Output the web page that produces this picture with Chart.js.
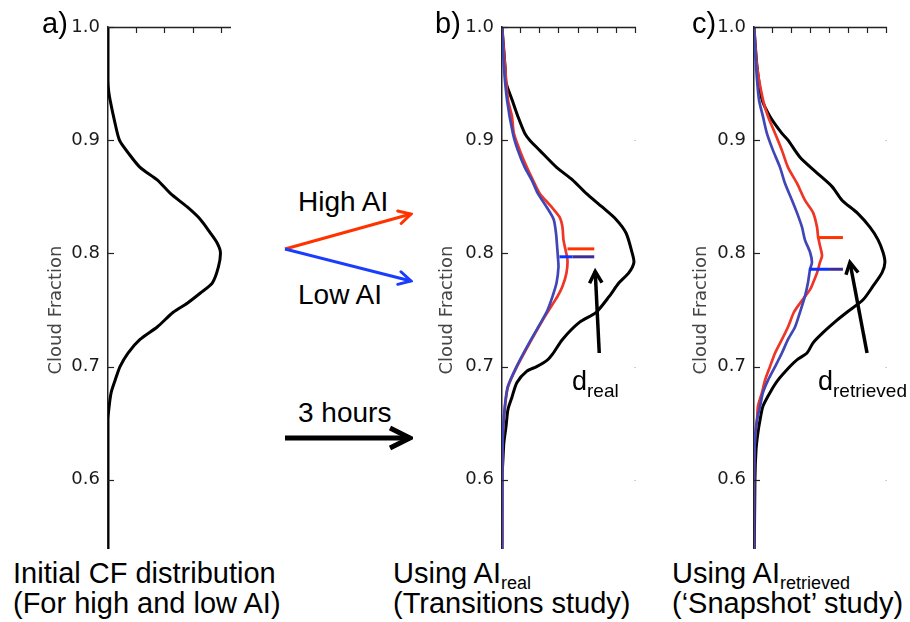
<!DOCTYPE html>
<html><head><meta charset="utf-8">
<script src="https://cdn.jsdelivr.net/npm/chart.js@4.4.1/dist/chart.umd.min.js"></script>
<style>
html,body{margin:0;padding:0;background:#fff;}
body{width:910px;height:622px;position:relative;overflow:hidden;font-family:"Liberation Sans",Arial,sans-serif;color:#000;}
canvas{position:absolute;top:0;z-index:1;}
#cover{position:absolute;left:0;top:549px;width:910px;height:73px;background:#fff;z-index:2;}
.t{position:absolute;font-size:28px;line-height:30px;white-space:nowrap;z-index:3;}
.big{font-size:29px;}
.sub{font-size:18px;position:relative;top:6px;line-height:0;}
.dl{font-size:27px;}
.dl .sub{font-size:19px;top:7px;}
#ov{position:absolute;left:0;top:0;z-index:3;pointer-events:none;}
</style></head><body>
<canvas id="ca" width="260" height="622" style="left:0"></canvas>
<canvas id="cb" width="260" height="622" style="left:394px"></canvas>
<canvas id="cc" width="264" height="622" style="left:646px"></canvas>
<div id="cover"></div>

<div class="t big" style="left:42px;top:8px">a)</div>
<div class="t big" style="left:435px;top:8px">b)</div>
<div class="t big" style="left:692px;top:8px">c)</div>

<div class="t" style="left:298px;top:187px">High AI</div>
<div class="t" style="left:298px;top:280px">Low AI</div>
<div class="t" style="left:298px;top:398px">3 hours</div>

<div class="t dl" style="left:572px;top:366px">d<span class="sub">real</span></div>
<div class="t dl" style="left:818px;top:366px">d<span class="sub">retrieved</span></div>

<div class="t big" style="left:13px;top:558px">Initial CF distribution<br>(For high and low AI)</div>
<div class="t big" style="left:393px;top:558px">Using AI<span class="sub">real</span><br>(Transitions study)</div>
<div class="t big" style="left:672px;top:558px">Using AI<span class="sub">retrieved</span><br>(‘Snapshot’ study)</div>

<svg id="ov" width="910" height="622">
<defs>
<marker id="mr" markerUnits="userSpaceOnUse" viewBox="0 0 16 16" markerWidth="16" markerHeight="16" refX="14" refY="8" orient="auto"><path d="M2,1.5 L14,8 L2,14.5" fill="none" stroke="#ff3300" stroke-width="3" stroke-linecap="round"/></marker>
<marker id="mb" markerUnits="userSpaceOnUse" viewBox="0 0 16 16" markerWidth="16" markerHeight="16" refX="14" refY="8" orient="auto"><path d="M2,1.5 L14,8 L2,14.5" fill="none" stroke="#1a3cff" stroke-width="3" stroke-linecap="round"/></marker>
<marker id="mk" markerUnits="userSpaceOnUse" viewBox="0 0 28 28" markerWidth="28" markerHeight="28" refX="25" refY="14" orient="auto"><path d="M5,4 L25,14 L5,24" fill="none" stroke="#000" stroke-width="5"/></marker>
</defs>
<line x1="285" y1="249" x2="411" y2="214" stroke="#ff3300" stroke-width="3" marker-end="url(#mr)"/>
<line x1="285" y1="249" x2="411" y2="281" stroke="#1a3cff" stroke-width="3" marker-end="url(#mb)"/>
<line x1="285" y1="438" x2="410" y2="438" stroke="#000" stroke-width="5" marker-end="url(#mk)"/>
</svg>

<script>
// ---------- data (cloud fraction vs. frequency density) ----------
// Panel a: initial CF distribution
const cfA   = [1.0, 0.953, 0.944, 0.936, 0.918, 0.900, 0.889, 0.876, 0.865, 0.853, 0.841, 0.830, 0.818, 0.809, 0.801, 0.788, 0.774, 0.765, 0.756, 0.748, 0.735, 0.724, 0.712, 0.700, 0.688, 0.677, 0.665, 0.653, 0.5];
const initA = [0, 0, 0.02, 0.07, 0.22, 0.40, 0.70, 1.12, 1.72, 2.18, 2.77, 3.23, 3.58, 3.82, 3.93, 3.86, 3.65, 3.23, 2.77, 2.28, 1.72, 1.12, 0.70, 0.42, 0.25, 0.11, 0.04, 0, 0];

// Panel b: using AI_real
const cfBInit = [1.0, 0.965, 0.951, 0.936, 0.921, 0.906, 0.900, 0.891, 0.876, 0.865, 0.853, 0.841, 0.830, 0.818, 0.801, 0.792, 0.783, 0.774, 0.762, 0.748, 0.739, 0.724, 0.711, 0.706, 0.700, 0.696, 0.686, 0.673, 0.662, 0.647, 0.633, 0.618, 0.600, 0.5];
const initB   = [0, 0.16, 0.21, 0.52, 0.83, 1.19, 1.45, 1.97, 2.85, 3.68, 4.40, 5.23, 5.96, 6.48, 6.79, 6.89, 6.63, 6.11, 5.60, 4.92, 4.04, 3.16, 2.64, 2.38, 1.81, 1.30, 0.78, 0.52, 0.31, 0.21, 0.10, 0.05, 0, 0];
const cfBHigh = [1.0, 0.965, 0.936, 0.921, 0.906, 0.891, 0.876, 0.865, 0.853, 0.841, 0.832, 0.823, 0.812, 0.803, 0.794, 0.783, 0.771, 0.762, 0.755, 0.741, 0.721, 0.700, 0.682, 0.665, 0.642, 0.618, 0.5];
const highB   = [0, 0.16, 0.31, 0.52, 0.62, 0.93, 1.30, 1.61, 1.97, 2.59, 3.01, 3.16, 3.21, 3.32, 3.42, 3.37, 3.16, 2.90, 2.64, 2.12, 1.45, 0.78, 0.31, 0.16, 0.05, 0.02, 0];
const cfBLow  = [1.0, 0.965, 0.936, 0.906, 0.891, 0.876, 0.865, 0.853, 0.841, 0.830, 0.818, 0.806, 0.797, 0.788, 0.774, 0.762, 0.750, 0.741, 0.721, 0.700, 0.682, 0.665, 0.642, 0.618, 0.5];
const lowB    = [0, 0.10, 0.26, 0.57, 0.83, 1.19, 1.55, 1.87, 2.33, 2.70, 2.82, 2.88, 2.92, 2.95, 2.85, 2.64, 2.38, 2.10, 1.42, 0.76, 0.30, 0.15, 0.05, 0.02, 0];
// mode markers (cf level, start, end of the horizontal bar)
const peakB   = { high: [0.804, 3.42, 4.82], lowBlue: [0.797, 3.00, 3.68], lowPurple: [0.797, 3.68, 4.82] };
const dArrowB = { from: [5.08, 0.712], to: [4.87, 0.784] };

// Panel c: using AI_retrieved
const cfCInit = [1.0, 0.965, 0.936, 0.921, 0.906, 0.900, 0.885, 0.871, 0.859, 0.847, 0.836, 0.823, 0.812, 0.801, 0.792, 0.783, 0.771, 0.759, 0.748, 0.741, 0.730, 0.721, 0.712, 0.706, 0.700, 0.688, 0.677, 0.665, 0.653, 0.642, 0.627, 0.600, 0.5];
const initC   = [0, 0.16, 0.42, 0.84, 1.47, 1.79, 2.42, 3.32, 4.11, 4.63, 5.42, 6.11, 6.53, 6.79, 6.89, 6.74, 6.26, 5.74, 4.89, 4.37, 3.63, 3.11, 2.79, 2.26, 1.89, 1.26, 0.84, 0.47, 0.32, 0.21, 0.11, 0.05, 0];
const cfCHigh = [1.0, 0.965, 0.936, 0.921, 0.906, 0.891, 0.876, 0.862, 0.847, 0.836, 0.823, 0.815, 0.807, 0.798, 0.792, 0.783, 0.774, 0.768, 0.756, 0.748, 0.735, 0.724, 0.712, 0.700, 0.688, 0.677, 0.665, 0.653, 0.636, 0.600, 0.5];
const highC   = [0, 0.16, 0.47, 0.74, 1.11, 1.47, 1.79, 2.26, 2.68, 3.11, 3.32, 3.37, 3.47, 3.58, 3.47, 3.32, 3.11, 2.95, 2.42, 2.10, 1.79, 1.47, 1.11, 0.84, 0.58, 0.42, 0.21, 0.16, 0.05, 0, 0];
const cfCLow  = [1.0, 0.965, 0.936, 0.921, 0.906, 0.891, 0.876, 0.862, 0.847, 0.836, 0.823, 0.812, 0.801, 0.792, 0.786, 0.774, 0.762, 0.748, 0.735, 0.724, 0.712, 0.700, 0.688, 0.677, 0.665, 0.653, 0.636, 0.600, 0.5];
const lowC    = [0, 0.11, 0.26, 0.47, 0.68, 1.00, 1.37, 1.63, 2.00, 2.26, 2.53, 2.68, 2.95, 3.05, 2.95, 2.84, 2.68, 2.42, 2.16, 1.79, 1.47, 1.11, 0.74, 0.47, 0.32, 0.16, 0.05, 0, 0];
const peakC   = { high: [0.814, 3.37, 4.68], lowBlue: [0.786, 2.89, 3.95], lowPurple: [0.786, 3.95, 4.68] };
const dArrowC = { from: [5.95, 0.712], to: [5.05, 0.792] };

// axis ticks
const yTickValues = [0.6, 0.7, 0.8, 0.9, 1.0];
const topTicksA = [1, 2, 3, 4];
const topTicksBC = [1, 2, 3, 4, 5, 6, 7];

// ---------- styling ----------
const COL = { init: '#000000', high: '#ee3526', low: '#4146b6', barHigh: '#ff3300', barLow: '#0a32ff', barPurple: '#3f2a9a' };

const pts = (xs, ys) => xs.map((v, i) => ({ x: v, y: ys[i] }));
const curve = (xs, ys, color, w) => ({ data: pts(xs, ys), showLine: true, borderColor: color, borderWidth: w, pointRadius: 0, tension: 0.25, fill: false });
const bar = (p, color) => ({ data: [{ x: p[1], y: p[0] }, { x: p[2], y: p[0] }], showLine: true, borderColor: color, borderWidth: 3, pointRadius: 0, tension: 0 });

function drawArrow(ctx, x1, y1, x2, y2, w, len, color) {
  const a = Math.atan2(y2 - y1, x2 - x1);
  ctx.strokeStyle = color; ctx.lineWidth = w; ctx.lineCap = 'butt';
  ctx.beginPath(); ctx.moveTo(x1, y1); ctx.lineTo(x2, y2); ctx.stroke();
  ctx.beginPath();
  ctx.moveTo(x2 - len * Math.cos(a - 0.5), y2 - len * Math.sin(a - 0.5));
  ctx.lineTo(x2, y2);
  ctx.lineTo(x2 - len * Math.cos(a + 0.5), y2 - len * Math.sin(a + 0.5));
  ctx.stroke();
}

const deco = {
  id: 'deco',
  afterDatasetsDraw(chart, args, opts) {
    const { ctx, chartArea: { left, right, top }, scales: { x, y } } = chart;
    ctx.save();
    ctx.strokeStyle = '#222'; ctx.lineWidth = 1.5;
    ctx.beginPath(); ctx.moveTo(left, top + 0.5); ctx.lineTo(right, top + 0.5); ctx.stroke();
    ctx.lineWidth = 1.2;
    for (const v of opts.topTicks) {
      const px = Math.round(x.getPixelForValue(v)) - 0.5;
      ctx.beginPath(); ctx.moveTo(px, top); ctx.lineTo(px, top + 6); ctx.stroke();
    }
    for (const v of yTickValues) {
      const py = Math.round(y.getPixelForValue(v)) + 0.5;
      ctx.beginPath(); ctx.moveTo(left, py); ctx.lineTo(left + 6, py); ctx.stroke();
    }
    if (opts.rightTicks) {
      ctx.strokeStyle = '#d0d0d0'; ctx.lineWidth = 1;
      for (const v of [0.6, 0.7, 0.9]) {
        const py = Math.round(y.getPixelForValue(v)) + 0.5;
        ctx.beginPath(); ctx.moveTo(right - 2, py); ctx.lineTo(right, py); ctx.stroke();
      }
    }
    if (opts.arrow) {
      const a = opts.arrow;
      drawArrow(ctx, x.getPixelForValue(a.from[0]), y.getPixelForValue(a.from[1]),
                     x.getPixelForValue(a.to[0]), y.getPixelForValue(a.to[1]), 3.5, 13, '#000');
    }
    ctx.restore();
  }
};

function makePanel(id, xMax, padRight, titlePad, datasets, decoOpts) {
  return new Chart(document.getElementById(id), {
    type: 'scatter',
    data: { datasets },
    options: {
      responsive: false, animation: false, devicePixelRatio: 1,
      layout: { padding: { left: 0, right: padRight, top: 27, bottom: 29 } },
      plugins: { legend: { display: false }, tooltip: { enabled: false }, deco: decoOpts },
      scales: {
        x: { type: 'linear', display: false, min: 0, max: xMax },
        y: {
          type: 'linear', min: 0.5, max: 1.0,
          ticks: { stepSize: 0.1, padding: 8, color: '#1a1a1a', font: { family: 'DejaVu Sans', size: 18 },
                   callback: v => Number(v).toFixed(1) },
          grid: { display: false, drawTicks: false },
          border: { display: true, color: '#222', width: 1.5 },
          title: { display: true, text: 'Cloud Fraction', color: '#444', font: { family: 'DejaVu Sans', size: 18 },
                   padding: { top: titlePad, bottom: 0 } },
          afterFit: s => { s.width = 108; }
        }
      }
    },
    plugins: [deco]
  });
}

makePanel('ca', 4.3, 29, 46, [
  curve(initA, cfA, COL.init, 3)
], { topTicks: topTicksA, rightTicks: false });

makePanel('cb', 7, 18, 43, [
  bar(peakB.lowPurple, COL.barPurple),
  bar(peakB.lowBlue, COL.barLow),
  bar(peakB.high, COL.barHigh),
  curve(lowB, cfBLow, COL.low, 2.7),
  curve(highB, cfBHigh, COL.high, 2.7),
  curve(initB, cfBInit, COL.init, 3)
], { topTicks: topTicksBC, rightTicks: true, arrow: dArrowB });

makePanel('cc', 7, 23, 45, [
  bar(peakC.lowPurple, COL.barPurple),
  bar(peakC.lowBlue, COL.barLow),
  bar(peakC.high, COL.barHigh),
  curve(lowC, cfCLow, COL.low, 2.7),
  curve(highC, cfCHigh, COL.high, 2.7),
  curve(initC, cfCInit, COL.init, 3)
], { topTicks: topTicksBC, rightTicks: true, arrow: dArrowC });
</script>
</body></html>
